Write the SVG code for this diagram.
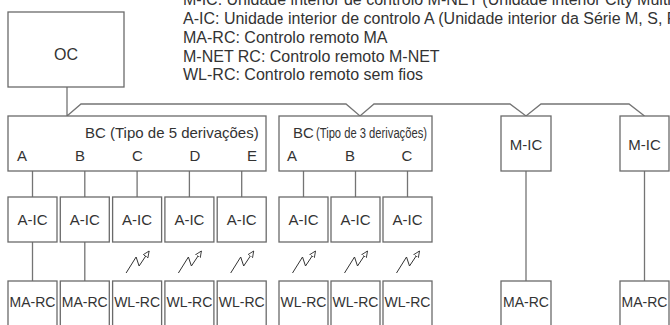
<svg xmlns="http://www.w3.org/2000/svg" width="670" height="325" viewBox="0 0 670 325">
<style>
.box{fill:#fff;stroke:#6a6a6a;stroke-width:1.3}
.ln{fill:none;stroke:#747474;stroke-width:1.3}
.zz{fill:none;stroke:#333;stroke-width:1}
text{font-family:"Liberation Sans",Arial,sans-serif;fill:#333}
.lg{font-size:16px}
.t15{font-size:15px}
.t14{font-size:14px}
.c{text-anchor:middle}
</style>
<defs>
<marker id="ah" viewBox="0 0 10 10" refX="9" refY="5" markerWidth="7" markerHeight="7" orient="auto" markerUnits="userSpaceOnUse">
<path d="M0,1 L9,5 L0,9 Z" fill="#fff" stroke="#333" stroke-width="1.2"/>
</marker>
<g id="zigzag"><path class="zz" d="M-11,273 L-1,257 L2,266 L12,251" marker-end="url(#ah)"/></g>
</defs>
<rect width="670" height="325" fill="#fff"/>
<g id="legend">
<text class="lg" x="183" y="5">M-IC: Unidade interior de controlo M-NET (Unidade interior City Multi</text>
<text class="lg" x="183" y="24">A-IC: Unidade interior de controlo A (Unidade interior da Série M, S, P</text>
<text class="lg" x="183" y="43">MA-RC: Controlo remoto MA</text>
<text class="lg" x="183" y="61.5">M-NET RC: Controlo remoto M-NET</text>
<text class="lg" x="183" y="80">WL-RC: Controlo remoto sem fios</text>
</g>
<g id="connectors">
<path class="ln" d="M67,87 L67,116 M67,116 L81,104 L346,104 L360,116 L374,104 L510,104 L526,116 L541,104 L629,104 L644.5,116"/>
<path class="ln" d="M32.5,171V197 M84.8,171V197 M137.1,171V197 M189.4,171V197 M241.7,171V197"/>
<path class="ln" d="M303.5,171V197 M355.5,171V197 M407.5,171V197"/>
<path class="ln" d="M32.5,242V281 M84.8,242V281"/>
<path class="ln" d="M526,171V281 M644.5,171V281"/>
<use href="#zigzag" x="137.1"/>
<use href="#zigzag" x="189.4"/>
<use href="#zigzag" x="241.7"/>
<use href="#zigzag" x="303.5"/>
<use href="#zigzag" x="355.5"/>
<use href="#zigzag" x="407.5"/>
</g>
<g id="OC"><rect class="box" x="8" y="12" width="116" height="75"/><text class="lg c" x="66" y="60">OC</text></g>
<g id="BC5"><rect class="box" x="8" y="116" width="258" height="55"/>
<text class="t15" x="85" y="138">BC (Tipo de 5 derivações)</text>
<text class="t15 c" x="22" y="161">A</text><text class="t15 c" x="80" y="161">B</text><text class="t15 c" x="137.5" y="161">C</text><text class="t15 c" x="195" y="161">D</text><text class="t15 c" x="252" y="161">E</text>
</g>
<g id="BC3"><rect class="box" x="279" y="116" width="153" height="55"/>
<text class="t15" x="293" y="138">BC</text>
<text class="t14" x="316" y="138" textLength="111" lengthAdjust="spacingAndGlyphs">(Tipo de 3 derivações)</text>
<text class="t15 c" x="292" y="161">A</text><text class="t15 c" x="350" y="161">B</text><text class="t15 c" x="407" y="161">C</text>
</g>
<g id="MIC1"><rect class="box" x="501" y="116" width="50" height="55"/><text class="t15 c" x="526" y="150">M-IC</text></g>
<g id="MIC2"><rect class="box" x="620" y="116" width="49" height="55"/><text class="t15 c" x="644.5" y="150">M-IC</text></g>
<g id="AIC1"><rect class="box" x="8" y="197" width="49" height="45"/><text class="t15 c" x="32.5" y="225">A-IC</text></g>
<g id="AIC2"><rect class="box" x="60.3" y="197" width="49" height="45"/><text class="t15 c" x="84.8" y="225">A-IC</text></g>
<g id="AIC3"><rect class="box" x="112.6" y="197" width="49" height="45"/><text class="t15 c" x="137.1" y="225">A-IC</text></g>
<g id="AIC4"><rect class="box" x="164.9" y="197" width="49" height="45"/><text class="t15 c" x="189.4" y="225">A-IC</text></g>
<g id="AIC5"><rect class="box" x="217.2" y="197" width="49" height="45"/><text class="t15 c" x="241.7" y="225">A-IC</text></g>
<g id="AIC6"><rect class="box" x="279" y="197" width="49" height="45"/><text class="t15 c" x="303.5" y="225">A-IC</text></g>
<g id="AIC7"><rect class="box" x="331" y="197" width="49" height="45"/><text class="t15 c" x="355.5" y="225">A-IC</text></g>
<g id="AIC8"><rect class="box" x="383" y="197" width="49" height="45"/><text class="t15 c" x="407.5" y="225">A-IC</text></g>
<g id="RC1"><rect class="box" x="8" y="281" width="49" height="60"/><text class="t14 c" x="32.5" y="307">MA-RC</text></g>
<g id="RC2"><rect class="box" x="60.3" y="281" width="49" height="60"/><text class="t14 c" x="84.8" y="307">MA-RC</text></g>
<g id="RC3"><rect class="box" x="112.6" y="281" width="49" height="60"/><text class="t14 c" x="137.1" y="307">WL-RC</text></g>
<g id="RC4"><rect class="box" x="164.9" y="281" width="49" height="60"/><text class="t14 c" x="189.4" y="307">WL-RC</text></g>
<g id="RC5"><rect class="box" x="217.2" y="281" width="49" height="60"/><text class="t14 c" x="241.7" y="307">WL-RC</text></g>
<g id="RC6"><rect class="box" x="279" y="281" width="49" height="60"/><text class="t14 c" x="303.5" y="307">WL-RC</text></g>
<g id="RC7"><rect class="box" x="331" y="281" width="49" height="60"/><text class="t14 c" x="355.5" y="307">WL-RC</text></g>
<g id="RC8"><rect class="box" x="383" y="281" width="49" height="60"/><text class="t14 c" x="407.5" y="307">WL-RC</text></g>
<g id="RC9"><rect class="box" x="501" y="281" width="50" height="60"/><text class="t14 c" x="526" y="307">MA-RC</text></g>
<g id="RC10"><rect class="box" x="620" y="281" width="49" height="60"/><text class="t14 c" x="644.5" y="307">MA-RC</text></g>
</svg>
